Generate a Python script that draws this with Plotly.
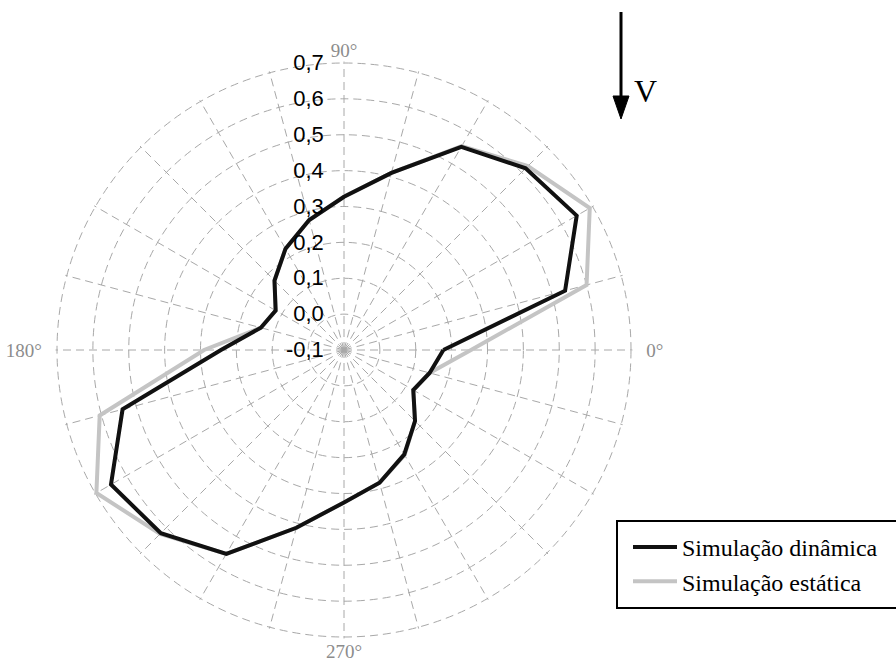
import plotly.graph_objects as go

# Direction of each sample (degrees, counterclockwise from the 0° axis)
angles = list(range(0, 360, 15))

# Radial values for each direction
dinamica = [0.177, 0.538, 0.649, 0.616, 0.554, 0.411, 0.327, 0.275, 0.226, 0.174, 0.120, 0.140,
            0.243, 0.539, 0.650, 0.622, 0.556, 0.413, 0.325, 0.283, 0.236, 0.180, 0.123, 0.147]
estatica = [0.254, 0.600, 0.691, 0.625, 0.556, 0.411, 0.327, 0.275, 0.226, 0.174, 0.120, 0.140,
            0.290, 0.605, 0.697, 0.625, 0.556, 0.413, 0.325, 0.283, 0.238, 0.180, 0.123, 0.147]

radial_ticks = [-0.1, 0.0, 0.1, 0.2, 0.3, 0.4, 0.5, 0.6, 0.7]
radial_labels = ["-0,1", "0,0", "0,1", "0,2", "0,3", "0,4", "0,5", "0,6", "0,7"]
angle_labels = {0: "\u00a0\u00a0\u20090°", 90: "90°", 180: "180°\u2009\u00a0\u00a0", 270: "270°"}

W, H = 896, 665
R_MIN, R_MAX = -0.1, 0.704      # a hair past 0,7 so the outer grid circle is kept
CX, CY, PX_PER_UNIT = 344, 350, 287 / 0.8
RADIUS = (R_MAX - R_MIN) * PX_PER_UNIT


def closed(seq):
    return list(seq) + [seq[0]]


def px(x, y):
    """Pixel position (from top-left) to paper coordinates."""
    return x / W, 1 - y / H


fig = go.Figure()
fig.add_trace(go.Scatterpolar(
    r=closed(estatica), theta=closed(angles), mode="lines",
    name="Simulação estática", line=dict(color="#c4c4c4", width=4),
    legendrank=2,
))
fig.add_trace(go.Scatterpolar(
    r=closed(dinamica), theta=closed(angles), mode="lines",
    name="Simulação dinâmica", line=dict(color="#111111", width=4),
    legendrank=1,
))

grid_color = "#a8a8a8"

# velocity arrow (shaft + head) and legend frame
ax0, ay0 = px(621, 12)
ax1, ay1 = px(621, 100)
hl, ht = px(613, 96)
hr, _ = px(629, 96)
tipx, tipy = px(621, 119)
lx0, ly0 = px(617, 608)
lx1, ly1 = px(905, 521)
vx, vy = px(645, 91)

fig.update_layout(
    width=W, height=H,
    margin=dict(l=0, r=0, t=0, b=0),
    paper_bgcolor="white",
    plot_bgcolor="white",
    showlegend=True,
    polar=dict(
        domain=dict(x=[(CX - RADIUS) / W, (CX + RADIUS) / W],
                    y=[1 - (CY + RADIUS) / H, 1 - (CY - RADIUS) / H]),
        bgcolor="white",
        radialaxis=dict(
            range=[R_MIN, R_MAX],
            angle=90,
            tickangle=90,
            side="counterclockwise",
            tickvals=radial_ticks,
            ticktext=radial_labels,
            tickfont=dict(family="Liberation Sans", size=22, color="black"),
            showline=False,
            ticks="outside",
            ticklen=12,
            tickcolor="rgba(0,0,0,0)",
            gridcolor=grid_color,
            griddash="8px,5px",
            gridwidth=1,
        ),
        angularaxis=dict(
            rotation=0,
            direction="counterclockwise",
            tickmode="array",
            tickvals=angles,
            ticktext=[angle_labels.get(a, "") for a in angles],
            tickfont=dict(family="Liberation Serif", size=19, color="#8c8c8c"),
            showline=False,
            ticks="",
            gridcolor=grid_color,
            griddash="8px,5px",
            gridwidth=1,
        ),
    ),
    legend=dict(
        x=628 / W, y=1 - 525 / H, xanchor="left", yanchor="top",
        font=dict(family="Liberation Serif", size=24, color="black"),
        bgcolor="rgba(0,0,0,0)",
        borderwidth=0,
        itemwidth=44,
        tracegroupgap=0,
    ),
    shapes=[
        dict(type="rect", xref="paper", yref="paper",
             x0=lx0, x1=lx1, y0=ly0, y1=ly1,
             line=dict(color="black", width=2), fillcolor="rgba(0,0,0,0)"),
        dict(type="line", xref="paper", yref="paper",
             x0=ax0, y0=ay0, x1=ax1, y1=ay1,
             line=dict(color="black", width=3)),
        dict(type="path", xref="paper", yref="paper",
             path=f"M {hl},{ht} L {hr},{ht} L {tipx},{tipy} Z",
             fillcolor="black", line=dict(color="black", width=1)),
    ],
    annotations=[
        dict(xref="paper", yref="paper", x=vx, y=vy,
             text="V", showarrow=False, xanchor="center", yanchor="middle",
             font=dict(family="Liberation Serif", size=32, color="black")),
    ],
)

fig.write_html("out.html")
